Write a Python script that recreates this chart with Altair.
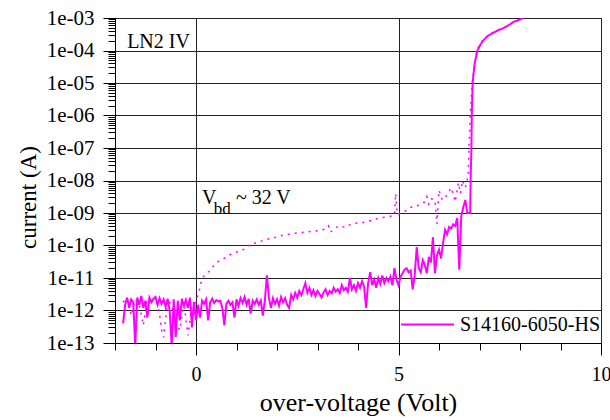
import altair as alt
import pandas as pd

FONT = "Liberation Serif"
MAG = "#ff00ff"
SERIES = "S14160-6050-HS"

# solid IV curve (over-voltage in V, current in A)
solid_v = [-1.80, -1.75, -1.70, -1.65, -1.60, -1.55, -1.50, -1.45, -1.40, -1.35,
           -1.30, -1.25, -1.20, -1.15, -1.10, -1.05, -1.00, -0.95, -0.90, -0.85,
           -0.80, -0.75, -0.70, -0.65, -0.60, -0.55, -0.50, -0.45, -0.40, -0.35,
           -0.30, -0.25, -0.20, -0.15, -0.10, -0.05, 0.00, 0.05, 0.10, 0.15,
           0.20, 0.25, 0.30, 0.35, 0.40, 0.45, 0.50, 0.55, 0.60, 0.65,
           0.70, 0.75, 0.80, 0.85, 0.90, 0.95, 1.00, 1.05, 1.10, 1.15,
           1.20, 1.25, 1.30, 1.35, 1.40, 1.45, 1.50, 1.55, 1.60, 1.65,
           1.70, 1.75, 1.80, 1.85, 1.90, 1.95, 2.00, 2.05, 2.10, 2.15,
           2.20, 2.25, 2.30, 2.35, 2.40, 2.45, 2.50, 2.55, 2.60, 2.65,
           2.70, 2.75, 2.80, 2.85, 2.90, 2.95, 3.00, 3.05, 3.10, 3.15,
           3.20, 3.25, 3.30, 3.35, 3.40, 3.45, 3.50, 3.55, 3.60, 3.65,
           3.70, 3.75, 3.80, 3.85, 3.90, 3.95, 4.00, 4.05, 4.10, 4.15,
           4.20, 4.25, 4.30, 4.35, 4.40, 4.45, 4.50, 4.55, 4.60, 4.65,
           4.70, 4.75, 4.80, 4.85, 4.90, 4.95, 5.00, 5.05, 5.10, 5.15,
           5.20, 5.25, 5.30, 5.35, 5.40, 5.45, 5.50, 5.55, 5.60, 5.65,
           5.70, 5.75, 5.80, 5.85, 5.90, 5.95, 6.00, 6.05, 6.10, 6.15,
           6.20, 6.25, 6.30, 6.35, 6.40, 6.45, 6.50, 6.55, 6.60, 6.65,
           6.70, 6.75, 6.77, 6.78, 6.80, 6.81, 6.83, 6.88, 6.95, 7.02,
           7.10, 7.20, 7.34, 7.46, 7.59, 7.72, 7.83, 7.95, 8.08]
solid_i = [4e-13, 1.5e-12, 2.5e-12, 1.2e-12, 2.2e-12, 1.8e-12, 8e-14, 2.5e-12, 1.5e-12, 2.8e-12,
           1.2e-12, 2.0e-12, 6e-13, 2.5e-12, 1.8e-12, 2.3e-12, 2.6e-12, 1.5e-12, 2.4e-12, 1.6e-12,
           2.2e-12, 1.3e-12, 2.3e-12, 1.0e-12, 8e-14, 2.2e-12, 1.5e-13, 2.0e-12, 5e-13, 2.3e-12,
           1.4e-12, 2.1e-12, 1.2e-12, 2.5e-12, 3e-13, 1.8e-12, 5e-13, 1.5e-12, 6e-13, 2.0e-12,
           1.6e-12, 2.2e-12, 5e-13, 1.8e-12, 2.3e-12, 1.7e-12, 2.1e-12, 1.9e-12, 2.0e-12, 1.2e-12,
           3.5e-13, 1.6e-12, 2.0e-12, 1.5e-12, 1.8e-12, 6e-13, 2.2e-12, 1.4e-12, 2.4e-12, 1.7e-12,
           2.6e-12, 1.5e-12, 2.3e-12, 8e-13, 2.0e-12, 1.6e-12, 2.2e-12, 1.5e-12, 2.0e-12, 7e-13,
           2.0e-12, 1.2e-11, 2.5e-12, 1.2e-12, 2.4e-12, 1.6e-12, 2.2e-12, 1.4e-12, 2.6e-12, 1.8e-12,
           2.4e-12, 1.5e-12, 1.2e-12, 3e-12, 2.2e-12, 3.5e-12, 2.5e-12, 4e-12, 3e-12, 4.5e-12,
           7e-12, 3.5e-12, 5e-12, 3e-12, 4.2e-12, 2.8e-12, 4e-12, 3.2e-12, 2.5e-12, 3.6e-12,
           4.5e-12, 3e-12, 4e-12, 3.4e-12, 5e-12, 3.8e-12, 4.5e-12, 3.5e-12, 6e-12, 4.2e-12,
           5e-12, 3.8e-12, 1.0e-11, 4.5e-12, 6e-12, 4e-12, 7e-12, 5e-12, 8e-12, 5.5e-12,
           1.2e-12, 7e-12, 1.5e-11, 6e-12, 9e-12, 5e-12, 1.0e-11, 6.5e-12, 1.2e-11, 7e-12,
           1.0e-11, 8e-12, 1.1e-11, 6e-12, 2.0e-11, 9e-12, 6e-12, 1.1e-11, 1.4e-11, 1.8e-11,
           2.0e-11, 1.5e-11, 1.7e-11, 4.5e-12, 1.2e-11, 9e-11, 2.0e-11, 1.5e-11, 3.5e-11, 2.5e-11,
           1.4e-11, 4.5e-11, 3e-11, 1.8e-10, 1.4e-11, 5e-11, 7.5e-11, 4e-11, 1.2e-10, 3e-10,
           2.2e-10, 3.7e-10, 3.3e-10, 4.5e-10, 4e-10, 7e-10, 1.8e-11, 8e-10, 1.5e-9, 2.5e-9,
           1.0e-9, 1.0e-9, 1.0e-9, 1e-8, 1e-7, 1e-6, 1e-5, 4e-5, 1e-4, 1.5e-4,
           2.1e-4, 2.8e-4, 3.5e-4, 4.2e-4, 4.9e-4, 6e-4, 7.5e-4, 8.5e-4, 1e-3]

# dotted IV curve
dot_v = [-1.80, -1.70, -1.60, -1.50, -1.40, -1.30, -1.20, -1.10, -1.00, -0.90,
         -0.85, -0.80, -0.70, -0.60, -0.50, -0.40, -0.30, -0.20, -0.10, 0.00,
         0.04, 0.08, 0.12, 0.20, 0.35, 0.45, 0.57, 0.74, 0.86, 1.03,
         1.23, 1.35, 1.50, 1.70, 1.90, 2.10, 2.27, 2.46, 2.70, 2.96,
         3.20, 3.27, 3.32, 3.52, 3.70, 3.82, 4.00, 4.20, 4.43, 4.55,
         4.80, 4.90, 4.93, 4.97, 5.05, 5.20, 5.30, 5.45, 5.55, 5.65,
         5.70, 5.75, 5.80, 5.90, 5.95, 6.00, 6.08, 6.15, 6.22, 6.30,
         6.36, 6.40, 6.48, 6.53, 6.58, 6.65, 6.70, 6.72, 6.74, 6.77,
         6.82, 6.93, 7.07, 7.30, 7.60, 7.85, 8.08]
dot_i = [1.8e-12, 2.5e-12, 7e-13, 2.2e-12, 1.5e-12, 3.5e-13, 2.4e-12, 2.0e-12, 2.6e-12, 8e-13,
         2.5e-13, 1.5e-13, 2.2e-12, 1.4e-12, 4e-13, 2.5e-13, 1.8e-12, 1.7e-13, 1.5e-12, 1.8e-12,
         2.8e-12, 4e-12, 7e-12, 1.2e-11, 1.7e-11, 2.5e-11, 3.4e-11, 4.3e-11, 5.4e-11, 6.5e-11,
         8e-11, 1.15e-10, 1.2e-10, 1.5e-10, 1.7e-10, 2.0e-10, 2.2e-10, 2.4e-10, 2.6e-10, 2.8e-10,
         3.2e-10, 4.0e-10, 2.6e-10, 4.0e-10, 3.6e-10, 4.5e-10, 5.0e-10, 5.2e-10, 6.5e-10, 7e-10,
         8e-10, 8.5e-10, 4e-9, 9e-10, 1.0e-9, 1.2e-9, 1.5e-9, 1.6e-9, 2.0e-9, 2.2e-9,
         3.2e-9, 1.9e-9, 2.8e-9, 2.5e-9, 4.6e-10, 5e-9, 2.5e-9, 3.0e-9, 4e-9, 6e-9,
         3.5e-9, 2.2e-9, 8.5e-9, 4e-9, 1.0e-8, 6e-9, 1.1e-8, 1.2e-8, 1e-7, 1e-6,
         1e-5, 1e-4, 2e-4, 3.5e-4, 5e-4, 7.5e-4, 1e-3]

# axis tick positions
x_ticks = [-2, -1, 0, 1, 2, 3, 4, 5, 6, 7, 8, 9, 10]
y_ticks = [k * 10.0 ** e for e in range(-13, -3) for k in range(1, 10)] + [1e-3]

# annotations
ann_text = ["LN2 IV", "V", "~ 32 V"]
ann_v = [-1.70, 0.15, 0.985]
ann_i = [1.2e-4, 1.9e-9, 1.9e-9]
sub_text = ["bd"]
sub_v = [0.44]
sub_i = [9.5e-10]

solid_df = pd.DataFrame({"v": solid_v, "i": solid_i, "s": SERIES})
dot_df = pd.DataFrame({"v": dot_v, "i": dot_i})
ann_df = pd.DataFrame({"v": ann_v, "i": ann_i, "t": ann_text})
sub_df = pd.DataFrame({"v": sub_v, "i": sub_i, "t": sub_text})

xscale = alt.Scale(domain=[-2, 10], nice=False, zero=False)
yscale = alt.Scale(type="log", domain=[1e-13, 1e-3], nice=False)

X_MAJOR = "datum.value % 5 == 0"
Y_MAJOR = "abs(log(datum.value)/LN10 - round(log(datum.value)/LN10)) < 0.001"
Y_LABEL = ("abs(log(datum.value)/LN10 - round(log(datum.value)/LN10)) < 0.001 ? "
           "'1e-' + (-round(log(datum.value)/LN10) < 10 ? '0' : '') + (-round(log(datum.value)/LN10)) : ''")

x_axis = alt.Axis(
    values=x_ticks, title="over-voltage (Volt)",
    labelExpr=X_MAJOR + " ? datum.label : ''",
    tickSize={"condition": {"test": X_MAJOR, "value": 12}, "value": 7},
    gridOpacity={"condition": {"test": X_MAJOR, "value": 1}, "value": 0},
    gridColor="#222222", gridWidth=1, grid=True,
    domainColor="black", tickColor="black", tickWidth=1,
    labelFont=FONT, labelFontSize=20, labelColor="black", labelPadding=9,
    labelOverlap=False, labelFlush=False,
    titleFont=FONT, titleFontSize=26, titleFontWeight="normal", titleColor="black",
    titlePadding=5,
)
y_axis = alt.Axis(
    values=y_ticks, title="current (A)",
    labelExpr=Y_LABEL,
    tickSize={"condition": {"test": Y_MAJOR, "value": 12}, "value": 7},
    gridOpacity={"condition": {"test": Y_MAJOR, "value": 1}, "value": 0},
    gridColor="#222222", gridWidth=1, grid=True,
    domainColor="black", tickColor="black", tickWidth=1,
    labelFont=FONT, labelFontSize=21, labelColor="black", labelPadding=9,
    labelOverlap=False, labelFlush=False,
    titleFont=FONT, titleFontSize=23, titleFontWeight="normal", titleColor="black",
    titleX=-87, titleY=179, titleAngle=-90, titleBaseline="middle", titleAlign="center",
)

solid = alt.Chart(solid_df).mark_line(strokeWidth=2, clip=True).encode(
    x=alt.X("v:Q", scale=xscale, axis=x_axis),
    y=alt.Y("i:Q", scale=yscale, axis=y_axis),
    color=alt.Color("s:N", scale=alt.Scale(domain=[SERIES], range=[MAG]),
                    legend=alt.Legend(orient="none", legendX=285, legendY=279, title=None,
                                      symbolType="stroke", symbolSize=2809, symbolStrokeWidth=2,
                                      labelFont=FONT, labelFontSize=20, labelColor="black",
                                      labelOffset=5, padding=0)),
)

dotted = alt.Chart(dot_df).mark_line(strokeWidth=1.5, strokeDash=[2, 5], color=MAG, clip=True).encode(
    x=alt.X("v:Q", scale=xscale),
    y=alt.Y("i:Q", scale=yscale),
)

ann = alt.Chart(ann_df).mark_text(font=FONT, fontSize=20, align="left", baseline="alphabetic",
                                  color="black").encode(
    x=alt.X("v:Q", scale=xscale),
    y=alt.Y("i:Q", scale=yscale),
    text="t:N",
)
sub = alt.Chart(sub_df).mark_text(font=FONT, fontSize=17, align="left", baseline="alphabetic",
                                  color="black").encode(
    x=alt.X("v:Q", scale=xscale),
    y=alt.Y("i:Q", scale=yscale),
    text="t:N",
)

chart = alt.layer(solid, dotted, ann, sub).properties(
    width=486, height=325,
    autosize=alt.AutoSizeParams(type="none"),
    padding={"left": 115, "top": 18, "right": 9, "bottom": 77},
    background="white",
).configure_view(stroke="black", strokeWidth=1)

chart.save("out.html", embed_options={"renderer": "svg", "actions": False})
